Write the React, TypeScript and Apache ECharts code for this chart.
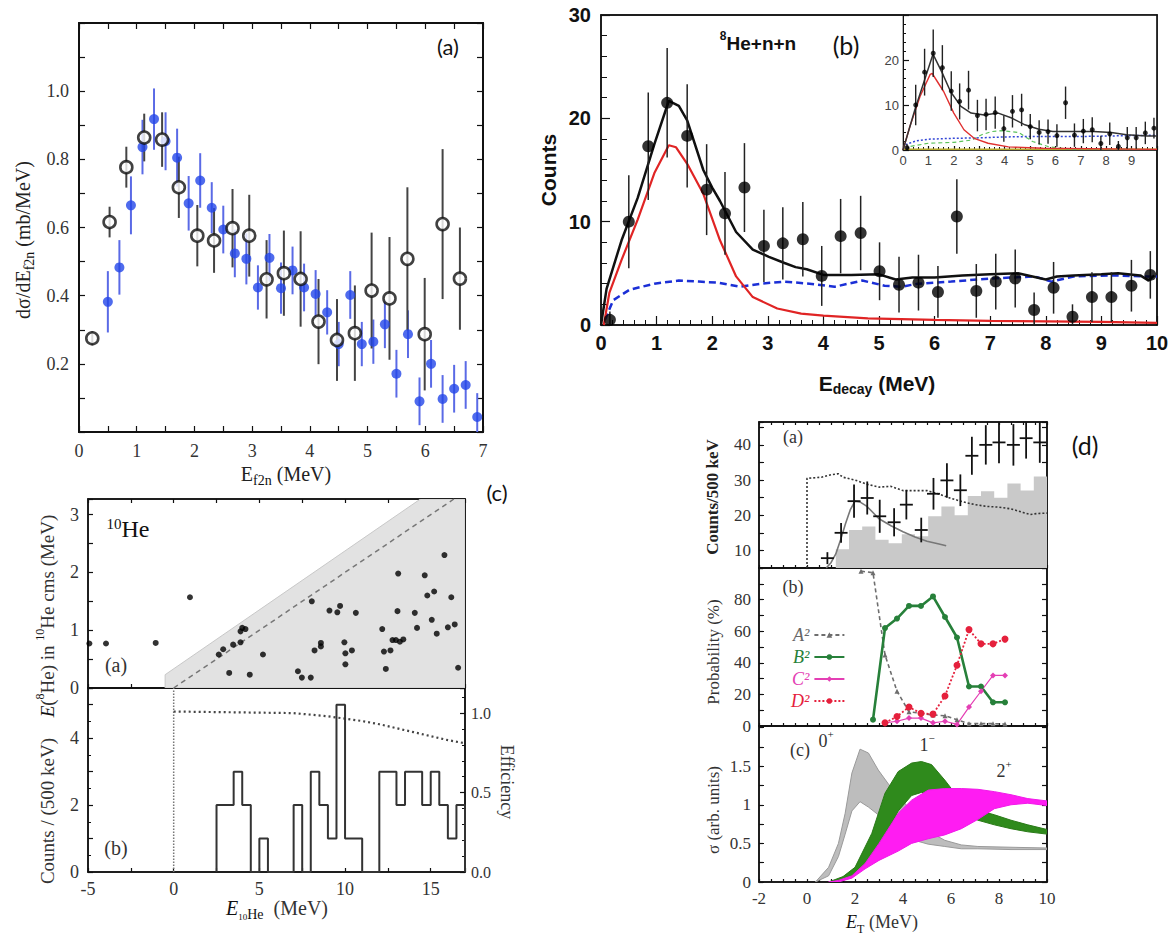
import React, { useEffect, useRef } from "react";
import * as echarts from "echarts";

const SERIF = "'Liberation Serif', 'DejaVu Serif', 'Times New Roman', serif";
const SANS = "'Liberation Sans', Arial, Helvetica, sans-serif";
const TAG = "Lato, 'Open Sans', 'Liberation Sans', sans-serif";

// ---------------- Panel (a): dσ/dE_f2n ----------------
const aOpenE = [0.23, 0.53, 0.82, 1.13, 1.44, 1.73, 2.05, 2.34, 2.66, 2.95, 3.25, 3.55, 3.84, 4.15, 4.47, 4.78, 5.07, 5.38, 5.69, 5.99, 6.3, 6.6];
const aOpenV = [0.275, 0.616, 0.777, 0.864, 0.858, 0.718, 0.576, 0.562, 0.598, 0.576, 0.448, 0.466, 0.449, 0.324, 0.27, 0.29, 0.415, 0.392, 0.508, 0.287, 0.61, 0.45];
const aOpenErr = [0.02, 0.045, 0.06, 0.07, 0.08, 0.09, 0.09, 0.095, 0.115, 0.12, 0.115, 0.125, 0.14, 0.125, 0.12, 0.14, 0.17, 0.18, 0.21, 0.165, 0.22, 0.15];
const aBlueE = [0.5, 0.7, 0.9, 1.1, 1.3, 1.5, 1.7, 1.9, 2.1, 2.3, 2.5, 2.7, 2.9, 3.1, 3.3, 3.5, 3.7, 3.9, 4.1, 4.3, 4.5, 4.7, 4.9, 5.1, 5.3, 5.5, 5.7, 5.9, 6.1, 6.3, 6.5, 6.7, 6.9];
const aBlueV = [0.382, 0.483, 0.665, 0.836, 0.918, 0.853, 0.805, 0.671, 0.738, 0.658, 0.594, 0.524, 0.508, 0.424, 0.511, 0.422, 0.474, 0.424, 0.405, 0.351, 0.258, 0.402, 0.258, 0.265, 0.316, 0.171, 0.287, 0.09, 0.2, 0.097, 0.127, 0.138, 0.044];
const aBlueErr = [0.09, 0.08, 0.085, 0.08, 0.09, 0.085, 0.085, 0.08, 0.08, 0.075, 0.07, 0.07, 0.075, 0.065, 0.07, 0.075, 0.07, 0.07, 0.07, 0.065, 0.065, 0.07, 0.065, 0.065, 0.07, 0.07, 0.07, 0.07, 0.07, 0.07, 0.07, 0.07, 0.07];

// ---------------- Panel (b): 8He+n+n ----------------
const bE = [0.16, 0.5, 0.85, 1.19, 1.55, 1.9, 2.23, 2.58, 2.93, 3.27, 3.63, 3.97, 4.31, 4.67, 5.01, 5.36, 5.71, 6.06, 6.4, 6.75, 7.1, 7.45, 7.79, 8.14, 8.48, 8.83, 9.18, 9.54, 9.88];
const bCounts = [0.5, 10.0, 17.3, 21.5, 18.3, 13.1, 10.8, 13.3, 7.65, 7.9, 8.3, 4.75, 8.6, 8.9, 5.2, 3.9, 4.1, 3.2, 10.5, 3.3, 4.2, 4.5, 1.45, 3.6, 0.8, 2.7, 2.7, 3.8, 4.85];
const bErr = [0.8, 4.5, 5.2, 5.3, 5.0, 4.4, 4.0, 4.3, 3.5, 3.5, 3.6, 2.9, 3.6, 3.6, 2.8, 2.7, 2.7, 2.5, 3.6, 2.6, 2.7, 2.8, 1.7, 2.5, 1.2, 2.4, 2.4, 2.5, 2.3];
const bTotalX = [0, 0.1, 0.37, 0.66, 0.96, 1.22, 1.4, 1.55, 1.84, 2.0, 2.14, 2.43, 2.73, 3.02, 3.3, 3.5, 3.7, 4.0, 4.5, 5.0, 5.3, 5.6, 6.0, 6.5, 7.0, 7.5, 8.0, 8.2, 8.5, 9.0, 9.3, 9.7, 9.85, 9.95];
const bTotalY = [0, 3.5, 8.2, 12.3, 17.5, 21.7, 21.2, 19.8, 15, 13.3, 12, 9, 7.3, 6.6, 6.0, 5.6, 5.4, 4.85, 4.85, 4.9, 4.4, 4.6, 4.6, 4.8, 4.9, 5.0, 4.4, 4.7, 4.8, 4.9, 5.0, 4.8, 4.3, 4.8];
const bResX = [0.05, 0.15, 0.37, 0.66, 0.96, 1.22, 1.35, 1.55, 1.84, 2.14, 2.43, 2.73, 3.17, 3.6, 4.0, 4.8, 6, 7, 8, 9, 10];
const bResY = [0, 3.1, 6.3, 10.2, 14.7, 17.4, 17.2, 15.6, 12.7, 8.2, 4.7, 2.7, 1.6, 1.1, 0.9, 0.65, 0.5, 0.4, 0.35, 0.3, 0.2];
const bBgX = [0.07, 0.22, 0.51, 0.96, 1.4, 1.76, 2.1, 2.5, 2.88, 3.3, 3.75, 4.2, 4.7, 5.1, 5.4, 5.7, 6.3, 7.0, 7.8, 8.1, 8.5, 9.2, 9.8, 10];
const bBgY = [0.5, 2.4, 3.4, 4.0, 4.3, 4.2, 4.1, 3.7, 4.0, 4.2, 4.0, 3.7, 4.3, 3.8, 3.7, 4.0, 4.2, 4.5, 4.7, 4.2, 4.7, 4.8, 4.7, 4.7];
// inset curves
const insTotalX = [0, 0.47, 1.18, 1.54, 1.87, 2.28, 2.68, 3.2, 3.75, 4.28, 4.8, 5.35, 5.9, 6.4, 7.5, 8.2, 8.8, 9.6, 10];
const insTotalY = [0, 9, 21.3, 17.2, 13, 9.7, 8.2, 7.8, 8.2, 7.1, 5.6, 4.6, 4.1, 4.1, 4.1, 3.9, 3.4, 3.1, 3.1];
const insResX = [0, 0.27, 0.67, 1.07, 1.15, 1.6, 2.0, 2.4, 2.8, 3.35, 4.15, 5.5, 10];
const insResY = [0, 5.2, 11.9, 16.8, 17, 13, 8.2, 4.5, 2.6, 1.5, 0.7, 0.4, 0.15];
const insBgX = [0.1, 0.5, 1, 2, 3, 4, 5, 6, 7, 8, 9, 10];
const insBgY = [1.2, 2, 2.4, 2.6, 2.7, 2.9, 3.0, 3.0, 3.0, 3.1, 3.2, 3.3];
const insGreenX = [0.3, 1, 2, 2.7, 3.1, 3.5, 3.9, 4.55, 5.1, 5.75, 6.5, 10];
const insGreenY = [0.8, 1.5, 1.7, 2.2, 3.4, 4.1, 4.3, 3.9, 1.9, 0.7, 0.2, 0.1];
const insFlatX = [0, 10];
const insFlatY = [0.15, 0.15];

// ---------------- Panel (c): 10He ----------------
const cEvX = [-4.92, -3.95, -1.05, 0.95, 2.63, 2.89, 3.24, 3.47, 3.9, 3.9, 4.0, 4.19, 4.44, 5.21, 7.25, 7.48, 8.0, 8.06, 8.22, 8.59, 8.59, 9.09, 9.55, 9.71, 9.96, 10.02, 10.02, 10.4, 10.63, 12.17, 12.27, 12.38, 12.65, 12.77, 12.97, 13.1, 13.06, 13.2, 13.4, 14.07, 14.2, 14.65, 14.8, 15.06, 15.2, 15.35, 15.8, 16.0, 16.2, 16.4, 16.6];
const cEvY = [0.77, 0.77, 0.78, 1.57, 0.58, 0.67, 0.26, 0.75, 0.79, 0.98, 1.04, 1.02, 0.23, 0.58, 0.29, 0.18, 0.18, 1.5, 0.65, 0.78, 0.72, 1.34, 1.31, 1.42, 0.79, 0.6, 0.41, 0.65, 1.3, 1.02, 0.63, 0.33, 0.65, 0.83, 0.83, 1.98, 1.33, 0.8, 0.84, 1.3, 1.04, 1.95, 1.6, 1.18, 1.67, 0.94, 2.3, 1.05, 1.57, 1.1, 0.35];
const cLimitX = [-0.5, -0.5, 14.4, 17, 17];
const cLimitY = [0, 0.23, 3.27, 3.27, 0];
const cDashX = [0, 16.35];
const cDashY = [0, 3.27];
const cHistEdges = [2.5, 3, 3.5, 4, 4.5, 5, 5.5, 6, 6.5, 7, 7.5, 8, 8.5, 9, 9.5, 10, 10.5, 11, 11.5, 12, 12.5, 13, 13.5, 14, 14.5, 15, 15.5, 16, 16.5, 17];
const cHistCounts = [2, 2, 3, 2, 0, 1, 0, 0, 0, 2, 0, 3, 2, 1, 5, 1, 1, 0, 0, 3, 3, 2, 3, 3, 2, 3, 2, 1, 2];
const cEffX = [0, 7, 8, 9, 10, 11, 12, 13, 14, 15, 16, 17];
const cEffY = [1.01, 1.0, 0.99, 0.98, 0.965, 0.95, 0.93, 0.905, 0.88, 0.855, 0.83, 0.81];
const cZeroX = [0, 0];
const cZeroY = [0, 5.5];

// ---------------- Panel (d) ----------------
const dPtE = [0.85, 1.42, 1.96, 2.51, 3.03, 3.63, 4.14, 4.76, 5.27, 5.83, 6.39, 6.87, 7.45, 8.0, 8.6, 9.13, 9.7];
const dPtC = [7.8, 15.0, 24.0, 24.9, 19.7, 18.0, 23.0, 15.8, 26.1, 29.9, 27.1, 36.9, 40.0, 40.7, 40.0, 41.9, 40.7];
const dPtErr = [1.7, 2.8, 4.7, 4.7, 4.7, 4.0, 4.2, 3.5, 4.5, 4.9, 4.5, 5.4, 5.6, 5.9, 5.9, 5.8, 5.8];
const dPtXErr = [0.27, 0.27, 0.27, 0.27, 0.27, 0.27, 0.27, 0.27, 0.27, 0.27, 0.27, 0.27, 0.27, 0.27, 0.27, 0.27, 0.27];
const dHistEdges = [1.2, 1.75, 2.3, 2.85, 3.4, 3.95, 4.5, 5.05, 5.6, 6.15, 6.7, 7.25, 7.8, 8.35, 8.9, 9.45, 10.0];
const dHistCounts = [10.3, 15.8, 16.8, 13, 12, 14.6, 14, 19.7, 22.5, 20, 25.5, 26.8, 25, 29, 27, 31];
const dFitX = [0.8, 1.0, 1.2, 1.4, 1.6, 1.8, 2.0, 2.2, 2.5, 3.0, 3.5, 4.0, 4.5, 5.0, 5.5, 5.8];
const dFitY = [5, 6.5, 9, 13, 17.5, 21.5, 24, 23.8, 22.5, 19, 17, 15.3, 13.8, 12.6, 11.8, 11.3];
const dEffX = [0, 0, 0.6, 1.0, 1.3, 1.5, 2.0, 2.5, 3.0, 3.5, 4.0, 5.0, 5.5, 6.0, 6.5, 7.0, 7.5, 8.0, 8.5, 9.0, 9.3, 9.6, 10];
const dEffY = [5, 30.5, 30.8, 31.5, 31.8, 30.8, 30, 28.8, 28, 28.2, 27, 27, 26, 24.8, 23.8, 23, 22.5, 22.3, 21.8, 20.8, 20.2, 20.5, 20.6];
const dProbX = [2.25, 2.75, 3.25, 3.75, 4.25, 4.75, 5.25, 5.75, 6.25, 6.75, 7.25, 7.75, 8.25];
const dA2 = [98, 97, 45, 22, 9, 8, 7, 6.5, 4, 1.5, 1.5, 1.5, 1.2];
const dB2 = [null, 4, 62, 68, 76, 76, 82, 69, 56, 25, 25, 15, 15];
const dC2 = [null, null, 2, 3, 5, 5, 2, 3, 1, 12, 22, 32, 32];
const dD2 = [null, null, 2, 6, 12, 8, 7.5, 19, 38.5, 61, 52, 52, 55];
const band0X = [0.35, 0.9, 1.31, 1.59, 1.87, 2.21, 2.56, 2.97, 3.53, 4.08, 4.36, 5.05, 5.74, 6.43, 7.12, 8.5, 10];
const band0Hi = [0, 0.19, 0.5, 0.89, 1.41, 1.72, 1.67, 1.45, 1.21, 1.02, 0.9, 0.66, 0.54, 0.48, 0.46, 0.45, 0.44];
const band0Lo = [0, 0.08, 0.33, 0.62, 0.92, 1.04, 0.97, 0.87, 0.7, 0.59, 0.55, 0.49, 0.46, 0.43, 0.43, 0.42, 0.42];
const band1X = [0.9, 1.5, 2.0, 2.7, 3.25, 3.8, 4.36, 4.77, 5.19, 5.74, 6.29, 7.12, 7.81, 8.5, 9.2, 10];
const band1Hi = [0, 0.07, 0.19, 0.63, 1.15, 1.43, 1.54, 1.56, 1.52, 1.32, 1.1, 0.93, 0.87, 0.8, 0.74, 0.68];
const band1Lo = [0, 0.02, 0.1, 0.33, 0.6, 0.92, 1.12, 1.16, 1.14, 1.05, 0.93, 0.8, 0.74, 0.69, 0.65, 0.62];
const band2X = [0.9, 1.3, 1.87, 2.42, 3.0, 3.8, 4.36, 5.05, 5.74, 6.43, 7.12, 7.81, 8.5, 9.2, 10];
const band2Hi = [0, 0.02, 0.08, 0.24, 0.5, 0.89, 1.06, 1.19, 1.21, 1.21, 1.2, 1.17, 1.13, 1.08, 1.05];
const band2Lo = [0, 0, 0.05, 0.17, 0.28, 0.4, 0.5, 0.56, 0.61, 0.69, 0.81, 0.95, 1.0, 1.02, 0.99];

// ---------------- helpers ----------------
const isMult = (v: number, m: number) => Math.abs(v / m - Math.round(v / m)) < 1e-6;
const zip = (xs: number[], ys: any[]) => xs.map((x, i) => [x, ys[i] == null ? "-" : ys[i]]);
const stepOutline = (edges: number[], counts: number[], base: number) => {
  const pts: number[][] = [[edges[0], base]];
  counts.forEach((c, i) => {
    pts.push([edges[i], c], [edges[i + 1], c]);
  });
  pts.push([edges[edges.length - 1], base]);
  return pts;
};

function axis(o: any) {
  return {
    type: "value",
    gridIndex: o.grid,
    position: o.pos,
    min: o.min,
    max: o.max,
    interval: o.interval,
    axisLine: { show: true, onZero: false, lineStyle: { color: "#111", width: o.lineW ?? 1.5 } },
    axisTick: { show: o.ticks !== false, inside: true, length: o.tickLen ?? 6, lineStyle: { color: "#111", width: 1.2 } },
    minorTick: o.minor
      ? { show: true, splitNumber: o.minor, length: o.minorLen ?? 3, lineStyle: { color: "#111", width: 1 } }
      : { show: false },
    splitLine: { show: false },
    axisLabel: o.labels
      ? { show: true, formatter: o.labels, margin: o.margin ?? 8, showMinLabel: true, showMaxLabel: true, ...o.font }
      : { show: false },
  };
}

function errBars(xs: number[], ys: number[], es: number[], xi: number, yi: number, color: string, w: number, xe?: number[]) {
  return {
    type: "custom",
    xAxisIndex: xi,
    yAxisIndex: yi,
    silent: true,
    clip: true,
    z: 3,
    data: xs.map((x, i) => [x, ys[i], es[i], xe ? xe[i] : 0]),
    renderItem: (_p: any, api: any) => {
      const x = api.value(0), y = api.value(1), e = api.value(2), ex = api.value(3);
      const a = api.coord([x, y - e]);
      const b = api.coord([x, y + e]);
      const ch: any[] = [
        { type: "line", shape: { x1: a[0], y1: a[1], x2: b[0], y2: b[1] }, style: { stroke: color, lineWidth: w } },
      ];
      if (ex) {
        const c = api.coord([x - ex, y]);
        const d = api.coord([x + ex, y]);
        ch.push({ type: "line", shape: { x1: c[0], y1: c[1], x2: d[0], y2: d[1] }, style: { stroke: color, lineWidth: w } });
      }
      return { type: "group", children: ch };
    },
  };
}

function band(xs: number[], lo: number[], hi: number[], xi: number, yi: number, fill: string, stroke: string, z: number) {
  return {
    type: "custom",
    xAxisIndex: xi,
    yAxisIndex: yi,
    silent: true,
    clip: true,
    z,
    data: [[xs[0], lo[0]]],
    renderItem: (_p: any, api: any) => {
      const pts: number[][] = [];
      xs.forEach((x, i) => pts.push(api.coord([x, hi[i]])));
      for (let i = xs.length - 1; i >= 0; i--) pts.push(api.coord([xs[i], lo[i]]));
      return { type: "polygon", shape: { points: pts }, style: { fill, stroke, lineWidth: 1 } };
    },
  };
}

const line = (xs: number[], ys: any[], xi: number, yi: number, color: string, w: number, type: any = "solid", z = 2, extra: any = {}) => ({
  type: "line",
  xAxisIndex: xi,
  yAxisIndex: yi,
  data: zip(xs, ys),
  symbol: "none",
  showSymbol: false,
  silent: true,
  z,
  lineStyle: { color, width: w, type },
  ...extra,
});

function txt(text: string, x: number, y: number, o: any = {}) {
  return {
    type: "text",
    x,
    y,
    rotation: o.rot ?? 0,
    silent: true,
    z: 100,
    style: {
      text,
      fill: o.color ?? "#111",
      fontSize: o.size ?? 18,
      fontFamily: o.family ?? SERIF,
      fontWeight: o.weight ?? "normal",
      fontStyle: o.style ?? "normal",
      lineHeight: o.lh ?? 26,
      align: "center",
      verticalAlign: "middle",
      textAlign: "center",
      textVerticalAlign: "middle",
      rich: o.rich,
    },
  };
}

const richSet = (family: string, size: number, weight = "normal") => ({
  sub: { fontFamily: family, fontSize: Math.round(size * 0.68), fontWeight: weight, lineHeight: 12, verticalAlign: "bottom", fill: "#111" },
  sup: { fontFamily: family, fontSize: Math.round(size * 0.62), fontWeight: weight, lineHeight: 12, verticalAlign: "top", fill: "#111" },
  it: { fontFamily: family, fontSize: size, fontStyle: "italic", fontWeight: weight, lineHeight: 26, fill: "#111" },
  tiny: { fontFamily: family, fontSize: Math.round(size * 0.45), lineHeight: 16, verticalAlign: "bottom", fill: "#111" },
});

function buildOption() {
  const grids = [
    { left: 79, top: 23, width: 404, height: 409 },
    { left: 601, top: 15, width: 556, height: 310 },
    { left: 903, top: 15, width: 254, height: 135, show: true, backgroundColor: "#fff", borderColor: "#666", borderWidth: 1 },
    { left: 88, top: 499, width: 377, height: 189 },
    { left: 88, top: 688, width: 377, height: 184 },
    { left: 759, top: 422, width: 288, height: 146 },
    { left: 759, top: 568, width: 288, height: 158 },
    { left: 759, top: 726, width: 288, height: 156 },
  ];
  const xA: any[] = [];
  const yA: any[] = [];
  const X = (o: any) => (xA.push(axis(o)), xA.length - 1);
  const Y = (o: any) => (yA.push(axis(o)), yA.length - 1);

  const fA = { fontFamily: SERIF, fontSize: 18, color: "#333" };
  const fB = { fontFamily: SANS, fontSize: 20, fontWeight: "bold", color: "#111" };
  const fI = { fontFamily: SANS, fontSize: 13, color: "#444" };
  const fC = { fontFamily: SERIF, fontSize: 18, color: "#333" };
  const fD = { fontFamily: SERIF, fontSize: 17, color: "#333" };

  // (a)
  const ax = X({ grid: 0, pos: "bottom", min: 0, max: 7, interval: 0.5, lineW: 2, tickLen: 6, labels: (v: number) => (isMult(v, 1) ? String(Math.round(v)) : ""), font: fA, margin: 10 });
  X({ grid: 0, pos: "top", min: 0, max: 7, interval: 0.5, lineW: 2, tickLen: 6 });
  const ay = Y({ grid: 0, pos: "left", min: 0, max: 1.2, interval: 0.1, lineW: 2, tickLen: 6, labels: (v: number) => (isMult(v, 0.2) && v > 0.1 && v < 1.1 ? v.toFixed(1) : ""), font: fA, margin: 10 });
  Y({ grid: 0, pos: "right", min: 0, max: 1.2, interval: 0.1, lineW: 2, tickLen: 6 });

  // (b)
  const bx = X({ grid: 1, pos: "bottom", min: 0, max: 10, interval: 1, tickLen: 9, minor: 5, minorLen: 5, labels: (v: number) => String(Math.round(v)), font: fB, margin: 8 });
  X({ grid: 1, pos: "top", min: 0, max: 10, interval: 1, ticks: false });
  const by = Y({ grid: 1, pos: "left", min: 0, max: 30, interval: 10, tickLen: 9, minor: 5, minorLen: 6, labels: (v: number) => String(Math.round(v)), font: fB, margin: 10 });
  Y({ grid: 1, pos: "right", min: 0, max: 30, interval: 10, ticks: false });
  const ix = X({ grid: 2, pos: "bottom", min: 0, max: 10, interval: 1, lineW: 1.5, tickLen: 4, minor: 5, minorLen: 3, labels: (v: number) => (v < 9.5 ? String(Math.round(v)) : ""), font: fI, margin: 4 });
  const iy = Y({ grid: 2, pos: "left", min: 0, max: 30, interval: 10, lineW: 1, tickLen: 6, minor: 5, minorLen: 3, labels: (v: number) => (v < 25 ? String(Math.round(v)) : ""), font: fI, margin: 4 });

  // (c)
  const cux = X({ grid: 3, pos: "bottom", min: -5, max: 17, interval: 2.5, tickLen: 4 });
  X({ grid: 3, pos: "top", min: -5, max: 17, interval: 2.5, tickLen: 4 });
  const cuy = Y({ grid: 3, pos: "left", min: 0, max: 3.27, interval: 0.5, tickLen: 5, labels: (v: number) => (isMult(v, 1) && v < 3.1 ? String(Math.round(v)) : ""), font: fC, margin: 9 });
  Y({ grid: 3, pos: "right", min: 0, max: 3.27, interval: 0.5, tickLen: 5 });
  const clx = X({ grid: 4, pos: "bottom", min: -5, max: 17, interval: 2.5, tickLen: 4, labels: (v: number) => (isMult(v, 5) ? String(Math.round(v)) : ""), font: fC, margin: 8 });
  const cly = Y({ grid: 4, pos: "left", min: 0, max: 5.5, interval: 1, tickLen: 5, minor: 2, minorLen: 3, labels: (v: number) => (isMult(v, 2) ? String(Math.round(v)) : ""), font: fC, margin: 9 });
  const cry = Y({ grid: 4, pos: "right", min: 0, max: 1.158, interval: 0.5, tickLen: 5, minor: 5, minorLen: 3, labels: (v: number) => (isMult(v, 0.5) && v < 1.05 ? v.toFixed(1) : ""), font: { ...fC, fontSize: 16 }, margin: 6 });

  // (d)
  const dxLab = (v: number) => (isMult(v, 2) ? String(Math.round(v)) : "");
  const dax = X({ grid: 5, pos: "bottom", min: -2, max: 10, interval: 0.5, tickLen: 3 });
  X({ grid: 5, pos: "top", min: -2, max: 10, interval: 0.5, tickLen: 3 });
  const day = Y({ grid: 5, pos: "left", min: 5, max: 46.5, interval: 5, tickLen: 5, labels: (v: number) => (isMult(v, 10) && v < 45 ? String(Math.round(v)) : ""), font: fD, margin: 8 });
  Y({ grid: 5, pos: "right", min: 5, max: 46.5, interval: 5, tickLen: 5 });
  const dbx = X({ grid: 6, pos: "bottom", min: -2, max: 10, interval: 0.5, tickLen: 3 });
  const dby = Y({ grid: 6, pos: "left", min: 0, max: 100, interval: 10, tickLen: 5, labels: (v: number) => (isMult(v, 20) && v < 90 ? String(Math.round(v)) : ""), font: fD, margin: 8 });
  Y({ grid: 6, pos: "right", min: 0, max: 100, interval: 10, tickLen: 5 });
  const dcx = X({ grid: 7, pos: "bottom", min: -2, max: 10, interval: 0.5, tickLen: 3, labels: dxLab, font: fD, margin: 8 });
  const dcy = Y({ grid: 7, pos: "left", min: 0, max: 2.02, interval: 0.25, tickLen: 5, labels: (v: number) => (isMult(v, 0.5) && v < 1.9 ? String(Math.round(v * 10) / 10) : ""), font: fD, margin: 8 });
  Y({ grid: 7, pos: "right", min: 0, max: 2.02, interval: 0.25, tickLen: 5 });

  const series: any[] = [];
  // (a)
  series.push(errBars(aBlueE, aBlueV, aBlueErr, ax, ay, "#5a6ae6", 2));
  series.push({ type: "scatter", xAxisIndex: ax, yAxisIndex: ay, data: zip(aBlueE, aBlueV), symbol: "circle", symbolSize: 10, itemStyle: { color: "#2346e8" }, z: 4, silent: true });
  series.push(errBars(aOpenE, aOpenV, aOpenErr, ax, ay, "#444", 2));
  series.push({ type: "scatter", xAxisIndex: ax, yAxisIndex: ay, data: zip(aOpenE, aOpenV), symbol: "circle", symbolSize: 12, itemStyle: { color: "#fff", borderColor: "#111", borderWidth: 2.6 }, z: 5, silent: true });

  // (b) main
  series.push(line(bBgX, bBgY, bx, by, "#1b2fd6", 2.5, [7, 4]));
  series.push(line(bResX, bResY, bx, by, "#e02424", 2.2));
  series.push(line(bTotalX, bTotalY, bx, by, "#111", 2.5));
  series.push(errBars(bE, bCounts, bErr, bx, by, "#222", 1.5));
  series.push({ type: "scatter", xAxisIndex: bx, yAxisIndex: by, data: zip(bE, bCounts), symbol: "circle", symbolSize: 12, itemStyle: { color: "#000" }, z: 5, silent: true });
  // (b) inset
  series.push(line(insFlatX, insFlatY, ix, iy, "#b5a62a", 1.5));
  series.push(line(insGreenX, insGreenY, ix, iy, "#5cc25c", 1.2, [4, 3]));
  series.push(line(insBgX, insBgY, ix, iy, "#3346d6", 1.5, [2, 2]));
  series.push(line(insResX, insResY, ix, iy, "#e03030", 1.4));
  series.push(line(insTotalX, insTotalY, ix, iy, "#333", 1.5));
  series.push(errBars(bE, bCounts, bErr, ix, iy, "#222", 1.4));
  series.push({ type: "scatter", xAxisIndex: ix, yAxisIndex: iy, data: zip(bE, bCounts), symbol: "circle", symbolSize: 5, itemStyle: { color: "#000" }, z: 5, silent: true });

  // (c) upper
  series.push(band(cLimitX, cLimitY.map(() => 0), cLimitY, cux, cuy, "#e2e2e2", "#c8c8c8", 1));
  series.push(line(cDashX, cDashY, cux, cuy, "#777", 1.5, [5, 4]));
  series.push({ type: "scatter", xAxisIndex: cux, yAxisIndex: cuy, data: zip(cEvX, cEvY), symbol: "circle", symbolSize: 6, itemStyle: { color: "#000" }, z: 5, silent: true });
  // (c) lower
  series.push(line(cZeroX, cZeroY, clx, cly, "#777", 1.5, "dotted"));
  series.push(line(cEffX, cEffY, clx, cry, "#444", 2.2, [2, 3]));
  series.push({ ...line([], [], clx, cly, "#333", 2), data: stepOutline(cHistEdges, cHistCounts, 0) });

  // (d) a
  series.push({
    ...line([], [], dax, day, "#c9c9c9", 0, "solid", 1),
    data: stepOutline(dHistEdges, dHistCounts, 5),
    areaStyle: { color: "#c9c9c9", opacity: 1, origin: "start" },
  });
  series.push(line(dEffX, dEffY, dax, day, "#333", 1.6, [2, 2]));
  series.push(line(dFitX, dFitY, dax, day, "#777", 1.6));
  series.push(errBars(dPtE, dPtC, dPtErr, dax, day, "#111", 1.8, dPtXErr));

  // (d) b
  const pl = (name: string, ys: any[], color: string, w: number, type: any, sym: string, size: number) => ({
    name,
    type: "line",
    xAxisIndex: dbx,
    yAxisIndex: dby,
    data: zip(dProbX, ys),
    symbol: sym,
    symbolSize: size,
    showSymbol: true,
    connectNulls: false,
    silent: true,
    lineStyle: { color, width: w, type },
    itemStyle: { color },
    z: 3,
  });
  series.push(pl("A²", dA2, "#6e6e6e", 1.6, [4, 3], "triangle", 5));
  series.push(pl("B²", dB2, "#27803a", 2.6, "solid", "circle", 6));
  series.push(pl("C²", dC2, "#e43fb4", 1.2, "solid", "diamond", 6));
  series.push(pl("D²", dD2, "#e5203c", 1.8, [2, 2], "circle", 7));

  // (d) c
  series.push(band(band0X, band0Lo, band0Hi, dcx, dcy, "#bdbdbd", "#9a9a9a", 2));
  series.push(band(band1X, band1Lo, band1Hi, dcx, dcy, "#2f8a1c", "#2a7a18", 3));
  series.push(band(band2X, band2Lo, band2Hi, dcx, dcy, "#ff1cf2", "#f01ae8", 4));

  const rS = richSet(SERIF, 20);
  const rB = richSet(SANS, 20, "bold");
  const rD = richSet(SERIF, 17);
  const graphic: any[] = [
    // (a)
    txt("(a)", 448, 46, { family: TAG, size: 22 }),
    txt("dσ/dE{sub|f2n} (mb/MeV)", 23, 240, { rot: Math.PI / 2, size: 20, rich: rS, color: "#222" }),
    txt("E{sub|f2n} (MeV)", 286, 474, { size: 20, rich: rS, color: "#222" }),
    // (b)
    txt("(b)", 846, 45, { family: TAG, size: 25 }),
    txt("{sup|8}He+n+n", 758, 43, { family: SANS, weight: "bold", size: 19, rich: richSet(SANS, 19, "bold") }),
    txt("Counts", 548, 170, { rot: Math.PI / 2, family: SANS, weight: "bold", size: 21 }),
    txt("E{sub|decay} (MeV)", 877, 383, { family: SANS, weight: "bold", size: 21, rich: rB }),
    // (c)
    txt("(c)", 497, 492, { family: TAG, size: 22 }),
    txt("{sup|10}He", 128, 529, { size: 24, rich: richSet(SERIF, 24) }),
    txt("(a)", 116, 665, { size: 20, color: "#333" }),
    txt("(b)", 116, 848, { size: 20, color: "#333" }),
    txt("{it|E}({sup|8}He) in {sup|10}He cms (MeV)", 47, 616, { rot: Math.PI / 2, size: 19, rich: richSet(SERIF, 19), color: "#333" }),
    txt("Counts / (500 keV)", 47, 811, { rot: Math.PI / 2, size: 19, color: "#333" }),
    txt("{it|E}{tiny|10}{sub|He}  (MeV)", 277, 908, { size: 20, rich: rS, color: "#333" }),
    txt("Efficiency", 507, 782, { rot: -Math.PI / 2, size: 18, color: "#333" }),
    // (d)
    txt("(d)", 1085, 445, { family: TAG, size: 25 }),
    txt("(a)", 793, 437, { size: 18, color: "#333" }),
    txt("(b)", 793, 587, { size: 18, color: "#333" }),
    txt("(c)", 800, 750, { size: 18, color: "#333" }),
    txt("Counts/500 keV", 712, 497, { rot: Math.PI / 2, size: 17, weight: "bold", color: "#222" }),
    txt("Probability (%)", 713, 652, { rot: Math.PI / 2, size: 17, color: "#333" }),
    txt("σ (arb. units)", 713, 810, { rot: Math.PI / 2, size: 17, color: "#333" }),
    txt("{it|E}{sub|T} (MeV)", 882, 922, { size: 18, rich: richSet(SERIF, 18), color: "#333" }),
    txt("0{sup|+}", 826, 741, { size: 18, rich: rD, color: "#333" }),
    txt("1{sup|−}", 927, 745, { size: 18, rich: rD, color: "#333" }),
    txt("2{sup|+}", 1004, 771, { size: 18, rich: rD, color: "#333" }),
  ];

  return {
    animation: false,
    backgroundColor: "#fff",
    textStyle: { fontFamily: SERIF },
    grid: grids.map((g: any) => ({ show: g.show ?? true, borderColor: g.borderColor ?? "#111", borderWidth: g.borderWidth ?? 1.5, backgroundColor: g.backgroundColor ?? "transparent", containLabel: false, ...g })),
    xAxis: xA,
    yAxis: yA,
    legend: {
      show: true,
      orient: "vertical",
      left: 786,
      top: 621,
      align: "right",
      itemWidth: 30,
      itemHeight: 7,
      itemGap: 4,
      selectedMode: false,
      data: [
        { name: "A²", textStyle: { color: "#666" } },
        { name: "B²", textStyle: { color: "#27803a" } },
        { name: "C²", textStyle: { color: "#e43fb4" } },
        { name: "D²", textStyle: { color: "#e5203c" } },
      ],
      textStyle: { fontFamily: SERIF, fontStyle: "italic", fontSize: 18 },
    },
    series,
    graphic,
  };
}

export default function App() {
  const ref = useRef<HTMLDivElement>(null);
  useEffect(() => {
    if (!ref.current) return;
    const chart = echarts.init(ref.current, undefined, { renderer: "svg" });
    chart.setOption(buildOption() as any);
    return () => chart.dispose();
  }, []);
  return <div ref={ref} style={{ position: "absolute", left: 0, top: 0, width: 1175, height: 935, background: "#fff" }} />;
}
